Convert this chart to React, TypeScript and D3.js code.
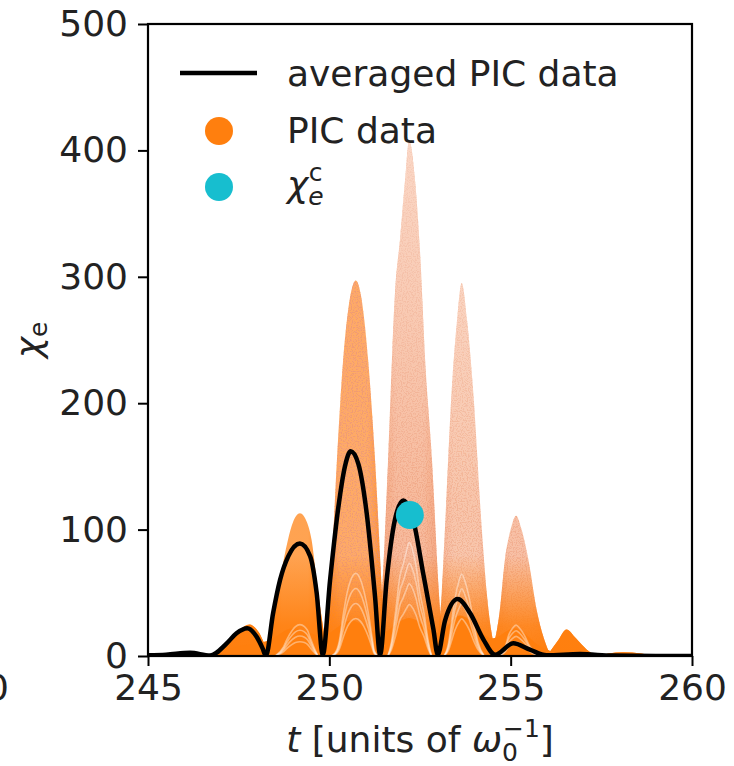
import React, { useEffect, useRef } from 'react';
import * as d3 from 'd3';

// averaged PIC data (black curve), [t, chi_e]
const avgPoints: [number, number][] = [
  [245.0, 0.5], [245.5, 1], [246.16, 2.6], [246.71, 0.4], [247.17, 10], [247.44, 18],
  [247.74, 22], [248.0, 15], [248.16, 6], [248.25, 0],
  [248.45, 34], [248.64, 60], [248.87, 79], [249.19, 89], [249.47, 79], [249.65, 50], [249.82, 1],
  [250.02, 60], [250.25, 118], [250.43, 150], [250.59, 162], [250.8, 152], [251.03, 113], [251.26, 47], [251.4, 1],
  [251.58, 60], [251.81, 108], [252.04, 123], [252.31, 108], [252.59, 65], [252.87, 21], [252.99, 1],
  [253.19, 28], [253.54, 45], [253.88, 34], [254.25, 13], [254.57, 1],
  [255.07, 10], [255.53, 5], [255.99, 0.5], [256.91, 1.5], [257.8, 0.3], [259.0, 0], [260.0, 0],
];

// PIC data: upper envelope of each burst of particles, [t, chi_e]
const lobeB: [number, number][] = [[246.75, 0], [247.2, 11], [247.5, 20], [247.8, 25], [248.05, 19], [248.3, 5], [248.5, 0]];
const lobeC: [number, number][] = [[248.15, 0], [248.5, 34], [248.64, 60], [248.86, 92], [249.0, 106], [249.19, 113], [249.38, 106], [249.51, 92], [249.65, 60], [249.77, 34], [249.95, 0]];
const lobeD: [number, number][] = [[249.72, 0], [249.93, 23], [250.02, 50], [250.21, 155], [250.38, 234], [250.52, 274], [250.73, 297], [250.93, 274], [251.07, 234], [251.26, 155], [251.45, 50], [251.5, 23], [251.65, 0]];
const lobeE: [number, number][] = [[251.3, 0], [251.45, 50], [251.62, 155], [251.81, 287], [251.95, 330], [252.09, 377], [252.2, 408], [252.36, 377], [252.5, 320], [252.65, 230], [252.83, 155], [253.02, 50], [253.15, 0]];
const lobeF: [number, number][] = [[252.9, 0], [253.1, 50], [253.19, 102], [253.37, 208], [253.52, 265], [253.65, 295], [253.8, 265], [253.97, 208], [254.2, 102], [254.34, 50], [254.6, 0]];
const lobeG: [number, number][] = [[254.45, 0], [254.7, 36], [254.84, 76], [255.0, 100], [255.15, 111], [255.3, 100], [255.49, 76], [255.72, 36], [256.1, 0]];
const lobeH: [number, number][] = [[256.0, 0], [256.3, 12], [256.54, 21], [256.8, 14], [257.1, 5], [257.4, 0]];
const lobeI: [number, number][] = [[257.4, 0], [257.7, 2], [258.1, 3], [258.6, 2], [259.0, 0]];

// densely packed particles close to chi_e = 0, [t, chi_e]
const denseBand: [number, number][] = [
  [246.8, 0], [247.4, 7], [248.0, 10], [248.3, 12], [249.0, 22], [249.8, 16], [250.6, 28],
  [251.4, 18], [252.2, 30], [253.0, 18], [253.6, 32], [254.5, 14], [255.1, 22], [255.8, 8], [256.2, 3], [256.5, 0],
];

// critical chi_e point
const critT = [252.22];
const critChi = [111.5];

const xTicks = [245, 250, 255, 260];
const yTicks = [0, 100, 200, 300, 400, 500];

const ORANGE = '#ff7f0e';
const SALMON = '#ee7032';
const CYAN = '#17becf';
const FONT = '"DejaVu Sans", sans-serif';

const App = () => {
  const svgRef = useRef<SVGSVGElement>(null);

  useEffect(() => {
    const svg = d3.select(svgRef.current);
    svg.selectAll('*').remove();

    const x = d3.scaleLinear().domain([245, 260]).range([148, 692]);
    const y = d3.scaleLinear().domain([0, 500]).range([656, 24]);

    const defs = svg.append('defs');
    defs.append('clipPath').attr('id', 'plot-clip')
      .append('rect')
      .attr('x', x(245)).attr('y', y(500))
      .attr('width', x(260) - x(245)).attr('height', y(0) - y(500));

    // grainy look of the scattered particles
    const f = defs.append('filter').attr('id', 'speckle')
      .attr('x', 0).attr('y', 0).attr('width', 1).attr('height', 1);
    f.append('feTurbulence').attr('type', 'fractalNoise').attr('baseFrequency', 0.8)
      .attr('numOctaves', 1).attr('seed', 4).attr('result', 'n');
    f.append('feColorMatrix').attr('in', 'n').attr('type', 'matrix')
      .attr('values', '0 0 0 0 0.82  0 0 0 0 0.3  0 0 0 0 0.15  0 0 0 -7 3.7')
      .attr('result', 'dots');
    f.append('feComposite').attr('in', 'dots').attr('in2', 'SourceGraphic')
      .attr('operator', 'in').attr('result', 'd2');
    const fm = f.append('feMerge');
    fm.append('feMergeNode').attr('in', 'SourceGraphic');
    fm.append('feMergeNode').attr('in', 'd2');

    // rim / core opacity of each burst (bright early bursts, paler later ones)
    const lobes = [lobeB, lobeC, lobeD, lobeE, lobeF, lobeG, lobeH, lobeI];
    const tint = [ORANGE, ORANGE, ORANGE, SALMON, SALMON, SALMON, ORANGE, ORANGE];
    const rim = [1, 1, 1, 0.66, 0.58, 0.64, 1, 1];
    const core = [0.9, 0.72, 0.66, 0.48, 0.4, 0.44, 0.95, 1];

    lobes.forEach((_, i) => {
      const g = defs.append('linearGradient').attr('id', `lg${i}`)
        .attr('x1', 0).attr('x2', 1).attr('y1', 0).attr('y2', 0);
      g.append('stop').attr('offset', 0).attr('stop-color', tint[i]).attr('stop-opacity', rim[i]);
      g.append('stop').attr('offset', 0.3).attr('stop-color', tint[i]).attr('stop-opacity', core[i]);
      g.append('stop').attr('offset', 0.7).attr('stop-color', tint[i]).attr('stop-opacity', core[i]);
      g.append('stop').attr('offset', 1).attr('stop-color', tint[i]).attr('stop-opacity', rim[i]);
    });
    const vg = defs.append('linearGradient').attr('id', 'dense')
      .attr('gradientUnits', 'userSpaceOnUse')
      .attr('x1', 0).attr('x2', 0).attr('y1', y(0)).attr('y2', y(80));
    vg.append('stop').attr('offset', 0).attr('stop-color', ORANGE).attr('stop-opacity', 1);
    vg.append('stop').attr('offset', 0.3).attr('stop-color', ORANGE).attr('stop-opacity', 0.85);
    vg.append('stop').attr('offset', 1).attr('stop-color', ORANGE).attr('stop-opacity', 0);
    // sparser particles towards the tips of the later bursts
    const tg = defs.append('linearGradient').attr('id', 'tipfade')
      .attr('gradientUnits', 'userSpaceOnUse')
      .attr('x1', 0).attr('x2', 0).attr('y1', y(120)).attr('y2', y(420));
    tg.append('stop').attr('offset', 0).attr('stop-color', '#fff').attr('stop-opacity', 0);
    tg.append('stop').attr('offset', 1).attr('stop-color', '#fff').attr('stop-opacity', 0.45);

    const plot = svg.append('g').attr('clip-path', 'url(#plot-clip)');

    const area = d3.area<[number, number]>()
      .x(d => x(d[0])).y0(y(0)).y1(d => y(d[1]))
      .curve(d3.curveMonotoneX);

    lobes.forEach((pts, i) => {
      plot.append('path').attr('d', area(pts)).attr('fill', `url(#lg${i})`)
        .attr('filter', i >= 2 && i <= 5 ? 'url(#speckle)' : null);
    });
    [lobeE, lobeF, lobeG].forEach(pts => {
      plot.append('path').attr('d', area(pts)).attr('fill', 'url(#tipfade)');
    });
    lobes.forEach(pts => {
      plot.append('path').attr('d', area(pts)).attr('fill', 'url(#dense)');
    });
    plot.append('path').attr('d', area(denseBand)).attr('fill', ORANGE);

    // faint arcs inside each burst
    const arc = d3.line<[number, number]>().x(d => x(d[0])).y(d => y(d[1])).curve(d3.curveMonotoneX);
    lobes.slice(1, 6).forEach(pts => {
      const peak = pts.reduce((a, b) => (b[1] > a[1] ? b : a));
      [0.1, 0.14, 0.18, 0.22].forEach(s => {
        const scaled = pts.map(p => [peak[0] + (p[0] - peak[0]) * 0.65, p[1] * s] as [number, number]);
        plot.append('path').attr('d', arc(scaled))
          .attr('fill', 'none').attr('stroke', '#fff')
          .attr('stroke-width', 1.6).attr('stroke-opacity', 0.4);
      });
    });

    // averaged PIC data
    plot.append('path')
      .attr('d', arc(avgPoints))
      .attr('fill', 'none').attr('stroke', '#000')
      .attr('stroke-width', 4.5).attr('stroke-linejoin', 'round');

    plot.selectAll('circle.crit')
      .data(critT.map((t, i) => [t, critChi[i]]))
      .join('circle')
      .attr('class', 'crit')
      .attr('cx', d => x(d[0])).attr('cy', d => y(d[1]))
      .attr('r', 14).attr('fill', CYAN);

    // axes frame
    svg.append('rect')
      .attr('x', x(245)).attr('y', y(500))
      .attr('width', x(260) - x(245)).attr('height', y(0) - y(500))
      .attr('fill', 'none').attr('stroke', '#000').attr('stroke-width', 2.2);

    const xAxis = svg.append('g').attr('transform', `translate(0,${y(0)})`)
      .call(d3.axisBottom(x).tickValues(xTicks).tickSize(10).tickPadding(8).tickFormat(d3.format('d')));
    const yAxis = svg.append('g').attr('transform', `translate(${x(245)},0)`)
      .call(d3.axisLeft(y).tickValues(yTicks).tickSize(10).tickPadding(10).tickFormat(d3.format('d')));
    [xAxis, yAxis].forEach(a => {
      a.select('.domain').remove();
      a.selectAll('line').attr('stroke', '#000').attr('stroke-width', 2);
      a.selectAll('text').attr('font-family', FONT).attr('font-size', 36).attr('fill', '#222');
    });
    xAxis.selectAll('text').attr('dy', '0.72em');

    // stray tick label from the neighbouring panel
    svg.append('text').attr('x', 9).attr('y', 700).attr('text-anchor', 'end')
      .attr('font-family', FONT).attr('font-size', 36).attr('fill', '#222').text('0');

    // axis labels
    const xl = svg.append('text').attr('x', 420).attr('y', 752).attr('text-anchor', 'middle')
      .attr('font-family', FONT).attr('font-size', 36).attr('fill', '#222');
    xl.append('tspan').attr('font-style', 'italic').text('t');
    xl.append('tspan').text(' [units of ');
    xl.append('tspan').attr('font-style', 'italic').text('ω');
    xl.append('tspan').attr('font-size', 25).attr('dy', 9).text('0');
    xl.append('tspan').attr('font-size', 25).attr('dx', -15).attr('dy', -24).text('−1');
    xl.append('tspan').attr('dy', 15).text(']');

    const yl = svg.append('text').attr('transform', `translate(41,340) rotate(-90)`)
      .attr('text-anchor', 'middle')
      .attr('font-family', FONT).attr('font-size', 36).attr('fill', '#222');
    yl.append('tspan').attr('font-style', 'italic').text('χ');
    yl.append('tspan').attr('font-size', 25).attr('dy', 6).text('e');

    // legend
    const lg = svg.append('g').attr('font-family', FONT).attr('font-size', 36).attr('fill', '#222');
    lg.append('line').attr('x1', 180).attr('x2', 257).attr('y1', 73).attr('y2', 73)
      .attr('stroke', '#000').attr('stroke-width', 4.5);
    lg.append('text').attr('x', 287).attr('y', 86).text('averaged PIC data');
    lg.append('circle').attr('cx', 219).attr('cy', 131).attr('r', 14).attr('fill', ORANGE);
    lg.append('text').attr('x', 287).attr('y', 143).text('PIC data');
    lg.append('circle').attr('cx', 219).attr('cy', 187).attr('r', 14).attr('fill', CYAN);
    const ct = lg.append('text').attr('x', 287).attr('y', 197);
    ct.append('tspan').attr('font-style', 'italic').text('χ');
    ct.append('tspan').attr('font-style', 'italic').attr('font-size', 25).attr('dy', 8).text('e');
    ct.append('tspan').attr('font-size', 25).attr('dx', -15).attr('dy', -24).text('c');
  }, []);

  return (
    <svg ref={svgRef} width={734} height={766}
      style={{ position: 'absolute', left: 0, top: 0, background: '#fff' }} />
  );
};

export default App;
